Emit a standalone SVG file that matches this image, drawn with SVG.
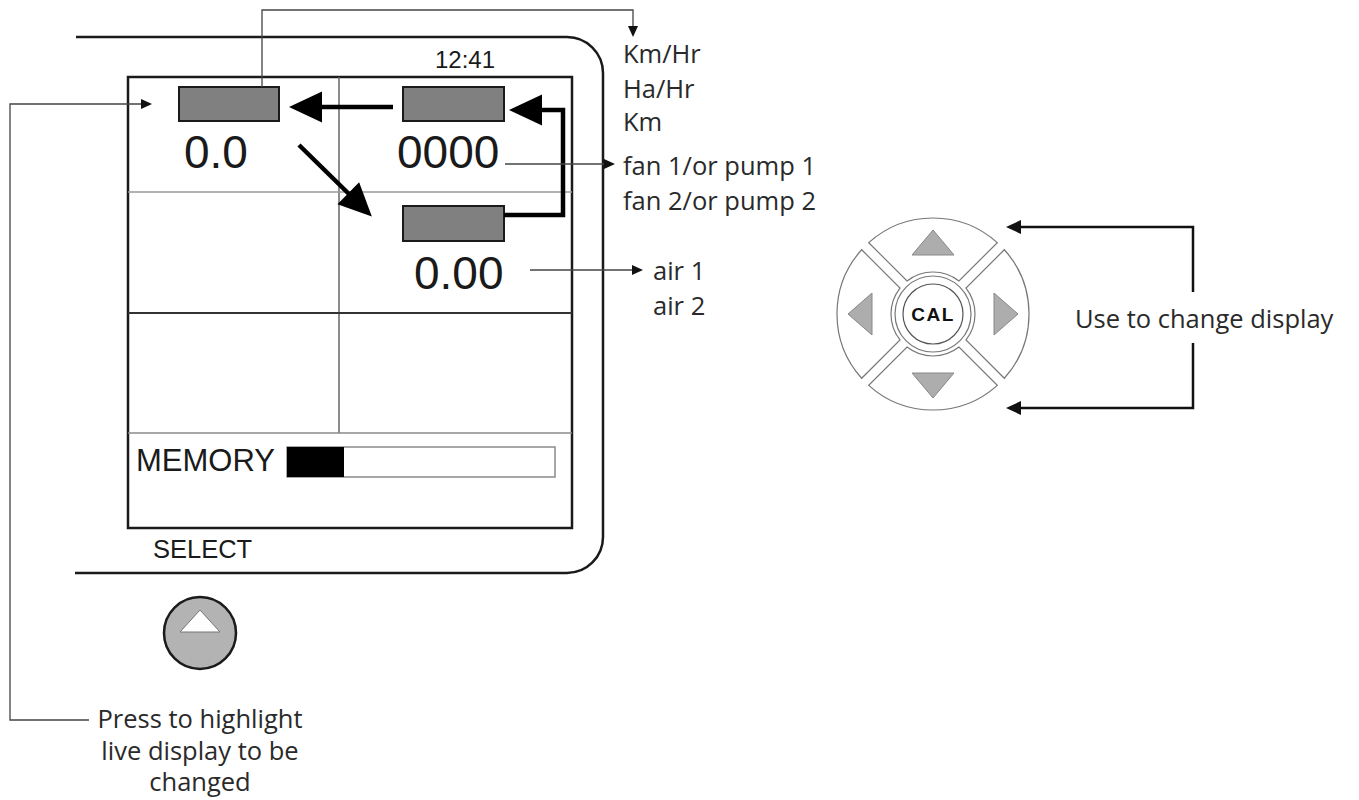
<svg xmlns="http://www.w3.org/2000/svg" xmlns:xlink="http://www.w3.org/1999/xlink" width="1359" height="800" viewBox="0 0 1359 800">
<style>
  .lbl { font-family: "Open Sans", "Noto Sans", sans-serif; font-size: 25.5px; fill: #2a2a2a; }
  .scr { font-family: "Liberation Sans", Arial, sans-serif; fill: #1a1a1a; }
  .big { font-size: 46px; }
  .thin { fill: none; stroke: #444; stroke-width: 1.3; }
  .thick { fill: none; stroke: #000; stroke-width: 4.5; stroke-linejoin: miter; }
  .med { fill: none; stroke: #111; stroke-width: 2.5; }
  .box { fill: #808080; stroke: #1a1a1a; stroke-width: 2; }
  .pad { fill: #fff; stroke: #777; stroke-width: 1.2; }
  .tri { fill: #adadad; stroke: #888; stroke-width: 1; }
</style>
<defs>
  <marker id="mThin" markerUnits="userSpaceOnUse" markerWidth="12" markerHeight="10" refX="0" refY="5" orient="auto" overflow="visible">
    <path d="M0,0 L11,5 L0,10 Z" fill="#111"/>
  </marker>
  <marker id="mThick" markerUnits="userSpaceOnUse" markerWidth="34" markerHeight="32" refX="1" refY="15.5" orient="auto" overflow="visible">
    <path d="M0,0 L33,15.5 L0,31 Z" fill="#000"/>
  </marker>
  <marker id="mMed" markerUnits="userSpaceOnUse" markerWidth="16" markerHeight="14" refX="1" refY="7" orient="auto" overflow="visible">
    <path d="M0,0 L15,7 L0,14 Z" fill="#111"/>
  </marker>
  <path id="padShape" d="M-64.26,-71.33 A96,96 0 0 1 64.26,-71.33 L25.95,-33.02 A42,42 0 0 0 -25.95,-33.02 Z"/>
</defs>
<rect width="1359" height="800" fill="#fff"/>

<g id="housing">
  <path d="M76,37 H567 A36,36 0 0 1 603,73 V537 A36,36 0 0 1 567,573 H75" fill="none" stroke="#1a1a1a" stroke-width="2.5"/>
</g>

<g id="screen">
  <rect x="128" y="77" width="444" height="451" fill="#fff" stroke="#1a1a1a" stroke-width="2.5"/>
  <line x1="339" y1="77" x2="339" y2="433" stroke="#666" stroke-width="1.5"/>
  <line x1="128" y1="192" x2="572" y2="192" stroke="#9a9a9a" stroke-width="1.5"/>
  <line x1="128" y1="313" x2="572" y2="313" stroke="#333" stroke-width="2"/>
  <line x1="128" y1="433" x2="572" y2="433" stroke="#8a8a8a" stroke-width="1.5"/>
  <text class="scr" x="435" y="68" font-size="24">12:41</text>
</g>

<g id="display1">
  <rect class="box" x="179" y="87" width="100" height="34"/>
  <text class="scr big" x="184" y="168">0.0</text>
</g>
<g id="display2">
  <rect class="box" x="403" y="87" width="101" height="34"/>
  <text class="scr big" x="397" y="168">0000</text>
</g>
<g id="display3">
  <rect class="box" x="403" y="206" width="101" height="35"/>
  <text class="scr big" x="414" y="289">0.00</text>
</g>

<g id="memory">
  <text class="scr" x="136" y="471" font-size="31">MEMORY</text>
  <rect x="287" y="447" width="268" height="30" fill="#fff" stroke="#8a8a8a" stroke-width="1.5"/>
  <rect x="287" y="447" width="57" height="30" fill="#000"/>
</g>

<g id="select">
  <text class="scr" x="153" y="558" font-size="25.5">SELECT</text>
  <circle cx="200" cy="633" r="36" fill="#b3b3b3" stroke="#1a1a1a" stroke-width="2.5"/>
  <path d="M200,610 L220,632 L180,632 Z" fill="#fff" stroke="#777" stroke-width="1"/>
</g>

<g id="units-labels">
  <text class="lbl" x="623" y="63">Km/Hr</text>
  <text class="lbl" x="623" y="98">Ha/Hr</text>
  <text class="lbl" x="623" y="131">Km</text>
</g>
<g id="fan-labels">
  <text class="lbl" x="623" y="175">fan 1/or pump 1</text>
  <text class="lbl" x="623" y="210">fan 2/or pump 2</text>
</g>
<g id="air-labels">
  <text class="lbl" x="653" y="280">air 1</text>
  <text class="lbl" x="653" y="315">air 2</text>
</g>
<g id="press-label">
  <text class="lbl" x="200" y="728" text-anchor="middle">Press to highlight</text>
  <text class="lbl" x="200" y="760" text-anchor="middle">live display to be</text>
  <text class="lbl" x="200" y="791" text-anchor="middle">changed</text>
</g>
<g id="use-label">
  <text class="lbl" x="1075" y="328">Use to change display</text>
</g>

<g id="dpad" transform="translate(933,314)">
  <use xlink:href="#padShape" class="pad"/>
  <use xlink:href="#padShape" class="pad" transform="rotate(90)"/>
  <use xlink:href="#padShape" class="pad" transform="rotate(180)"/>
  <use xlink:href="#padShape" class="pad" transform="rotate(270)"/>
  <circle r="38" fill="#fff" stroke="#777" stroke-width="1.2"/>
  <circle r="30" fill="#fff" stroke="#555" stroke-width="1.2"/>
  <path class="tri" d="M0,-84 L21,-59 L-21,-59 Z"/>
  <path class="tri" d="M0,84 L21,59 L-21,59 Z"/>
  <path class="tri" d="M-85,0 L-61,-21 L-61,21 Z"/>
  <path class="tri" d="M85,0 L61,-21 L61,21 Z"/>
  <text x="0" y="7" text-anchor="middle" font-family="Liberation Sans, Arial, sans-serif" font-weight="bold" font-size="19" letter-spacing="1.5" fill="#111">CAL</text>
</g>

<g id="connectors">
  <path class="thick" d="M393,107 H321" marker-end="url(#mThick)"/>
  <path class="thick" d="M299,145 L349,194" marker-end="url(#mThick)"/>
  <path class="thick" d="M504,215 H563 V110 H541" marker-end="url(#mThick)"/>
  <path class="thin" d="M262,87 V10 H633 V26" marker-end="url(#mThin)"/>
  <path class="thin" d="M505,164 H604" marker-end="url(#mThin)"/>
  <path class="thin" d="M530,270 H632" marker-end="url(#mThin)"/>
  <path class="thin" d="M89,720 H10 V104 H141" marker-end="url(#mThin)"/>
  <path class="med" d="M1193,292 V227 H1020" marker-end="url(#mMed)"/>
  <path class="med" d="M1193,343 V408 H1020" marker-end="url(#mMed)"/>
</g>
</svg>
